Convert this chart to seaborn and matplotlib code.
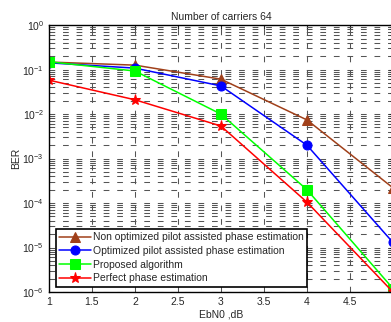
import numpy as np
import pandas as pd
import matplotlib
matplotlib.use("Agg")
import matplotlib.pyplot as plt
import seaborn as sns
from matplotlib.ticker import NullFormatter, FixedLocator, LogFormatterSciNotation

ebn0 = [1, 2, 3, 4, 5]
non_optimized = [0.148, 0.126, 0.061, 0.0074, 0.00022]
optimized = [0.142, 0.108, 0.043, 0.002, 0.000013]
proposed = [0.150, 0.093, 0.010, 0.00020, 0.0000012]
perfect = [0.058, 0.021, 0.0054, 0.000105, 0.000001]

labels = ["Non optimized pilot assisted phase estimation",
          "Optimized pilot assisted phase estimation",
          "Proposed algorithm",
          "Perfect phase estimation"]
colors = ["#A0401A", "#0000FF", "#00FF00", "#FF0000"]
markers = ["^", "o", "s", "*"]
xtick_vals = [1, 1.5, 2, 2.5, 3, 3.5, 4, 4.5]
xtick_labels = ["1", "1.5", "2", "2.5", "3", "3.5", "4", "4.5"]
ytick_vals = [1e-6, 1e-5, 1e-4, 1e-3, 1e-2, 1e-1, 1e0]

df = pd.concat([
    pd.DataFrame({"EbN0": ebn0, "BER": vals, "method": lab})
    for vals, lab in zip([non_optimized, optimized, proposed, perfect], labels)
])

sns.set_style("white")
plt.rcParams["font.family"] = ["Liberation Sans", "DejaVu Sans"]
fs = 7.5

fig = plt.figure(figsize=(3.91, 3.22), dpi=100)
ax = fig.add_axes([0.125, 0.093, 0.880, 0.829])

for lab, col, mk in zip(labels, colors, markers):
    sub = df[df["method"] == lab]
    sns.lineplot(data=sub, x="EbN0", y="BER", ax=ax, color=col, marker=mk,
                 markersize=8 if mk == "*" else 6.5, markeredgecolor=col,
                 linewidth=1.1, label=lab)

ax.set_yscale("log")
ax.set_xlim(1, 5)
ax.set_ylim(1e-6, 1)
ax.xaxis.set_major_locator(FixedLocator(xtick_vals))
ax.set_xticklabels(xtick_labels)
ax.yaxis.set_major_locator(FixedLocator(ytick_vals))
ax.yaxis.set_major_formatter(LogFormatterSciNotation())
minor_y = [m * 10.0 ** e for e in range(-6, 0) for m in range(2, 10)]
ax.yaxis.set_minor_locator(FixedLocator(minor_y))
ax.yaxis.set_minor_formatter(NullFormatter())
gstyle = dict(color="#555555", linestyle=(0, (5.5, 7.5)), linewidth=0.75)
ax.grid(True, which="major", **gstyle)
ax.yaxis.grid(True, which="minor", **gstyle)
ax.tick_params(axis="both", which="both", direction="in", labelsize=fs, length=3,
               top=True, right=True)
ax.tick_params(axis="y", which="minor", length=2)
for sp in ax.spines.values():
    sp.set_color("black")
    sp.set_linewidth(1.0)

ax.set_title("Number of carriers 64", fontsize=fs, pad=4)
ax.set_xlabel("EbN0 ,dB", fontsize=fs, labelpad=2)
ax.set_ylabel("BER", fontsize=fs, labelpad=1)

leg = ax.legend(loc="lower left", bbox_to_anchor=(0.005, 0.0), fontsize=fs, frameon=True,
                fancybox=False, edgecolor="black", framealpha=1, borderpad=0.35,
                labelspacing=0.35, handlelength=3.0, handletextpad=0.2)
leg.get_frame().set_linewidth(1.2)

fig.savefig("out.png", dpi=100)
